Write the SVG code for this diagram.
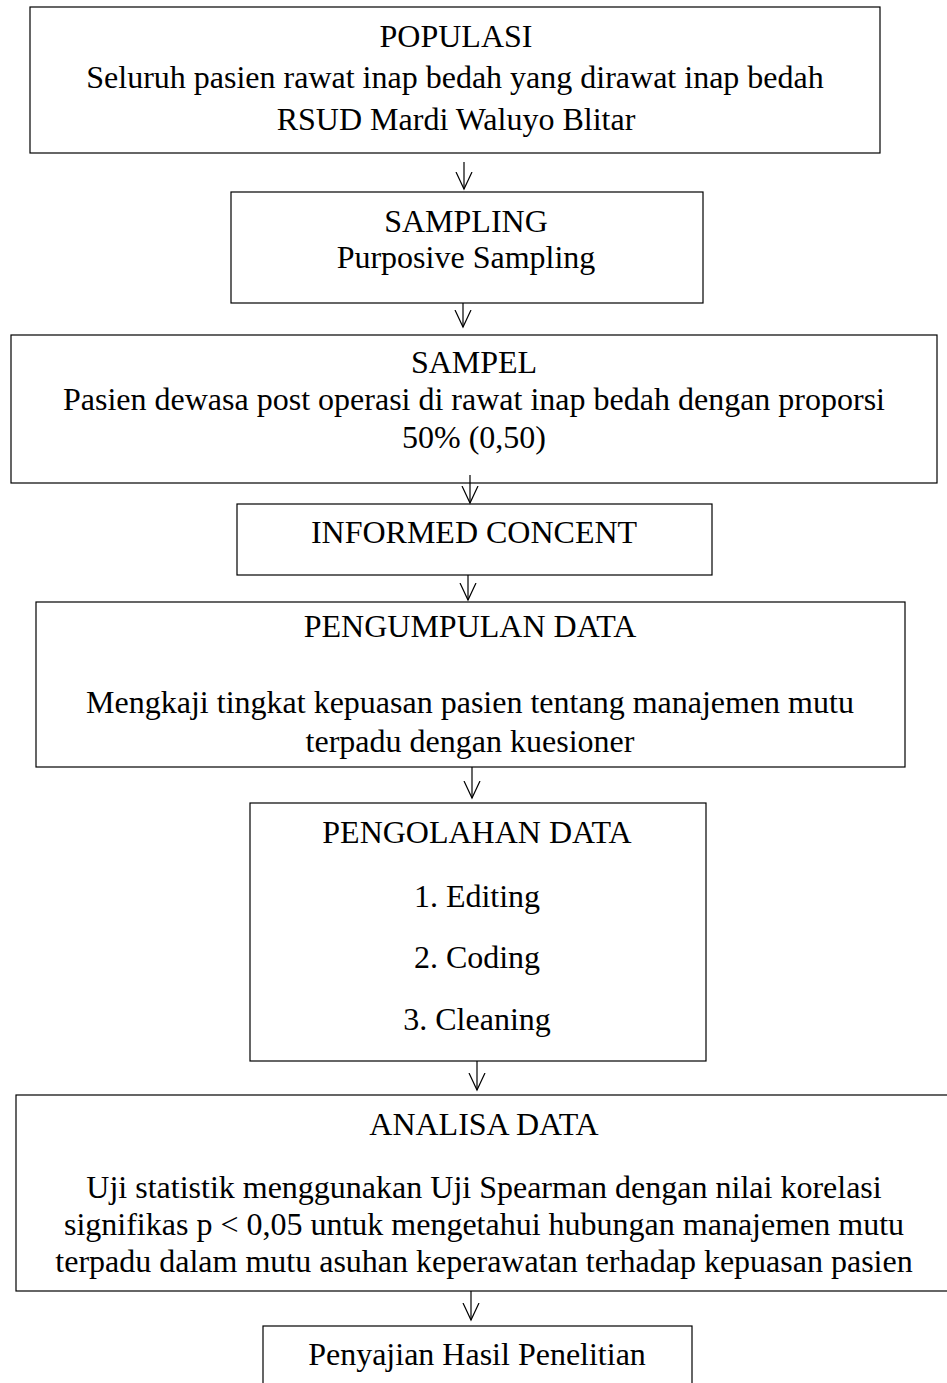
<svg xmlns="http://www.w3.org/2000/svg" width="947" height="1383" viewBox="0 0 947 1383">
<style>
.box{fill:#fff;stroke:#000;stroke-width:1.2}
.t{font-family:"Liberation Serif","Times New Roman",serif;font-size:32px;fill:#000;text-anchor:middle}
.c{stroke:#000;stroke-width:1.2;fill:none}
</style>
<defs>
<marker id="ah" markerWidth="20" markerHeight="20" refX="17" refY="9" orient="auto" markerUnits="userSpaceOnUse" viewBox="0 0 20 20">
<path d="M0,1 L17,9 L0,17" fill="none" stroke="#000" stroke-width="1.2"/>
</marker>
</defs>
<rect width="947" height="1383" fill="#fff"/>
<g id="populasi">
<rect class="box" x="30" y="7" width="850" height="146"/>
<text class="t" x="456" y="47">POPULASI</text>
<text class="t" x="455" y="88">Seluruh pasien rawat inap bedah yang dirawat inap bedah</text>
<text class="t" x="456" y="130">RSUD Mardi Waluyo Blitar</text>
</g>
<g id="sampling">
<rect class="box" x="231" y="192" width="472" height="111"/>
<text class="t" x="466" y="232">SAMPLING</text>
<text class="t" x="466" y="268">Purposive Sampling</text>
</g>
<g id="sampel">
<rect class="box" x="11" y="335" width="926" height="148"/>
<text class="t" x="474" y="373">SAMPEL</text>
<text class="t" x="474" y="410">Pasien dewasa post operasi di rawat inap bedah dengan proporsi</text>
<text class="t" x="474" y="448">50% (0,50)</text>
</g>
<g id="informed">
<rect class="box" x="237" y="504" width="475" height="71"/>
<text class="t" x="474" y="543">INFORMED CONCENT</text>
</g>
<g id="pengumpulan">
<rect class="box" x="36" y="602" width="869" height="165"/>
<text class="t" x="470" y="637">PENGUMPULAN DATA</text>
<text class="t" x="470" y="713">Mengkaji tingkat kepuasan pasien tentang manajemen mutu</text>
<text class="t" x="470" y="752">terpadu dengan kuesioner</text>
</g>
<g id="pengolahan">
<rect class="box" x="250" y="803" width="456" height="258"/>
<text class="t" x="477" y="843">PENGOLAHAN DATA</text>
<text class="t" x="477" y="907">1. Editing</text>
<text class="t" x="477" y="968">2. Coding</text>
<text class="t" x="477" y="1030">3. Cleaning</text>
</g>
<g id="analisa">
<rect class="box" x="16" y="1095" width="938" height="196"/>
<text class="t" x="484" y="1135">ANALISA DATA</text>
<text class="t" x="484" y="1198">Uji statistik menggunakan Uji Spearman dengan nilai korelasi</text>
<text class="t" x="484" y="1235">signifikas p &lt; 0,05 untuk mengetahui hubungan manajemen mutu</text>
<text class="t" x="484" y="1272">terpadu dalam mutu asuhan keperawatan terhadap kepuasan pasien</text>
</g>
<g id="penyajian">
<rect class="box" x="263" y="1326" width="429" height="80"/>
<text class="t" x="477" y="1365">Penyajian Hasil Penelitian</text>
</g>
<g id="connectors">
<line class="c" x1="464" y1="162" x2="464" y2="189" marker-end="url(#ah)"/>
<line class="c" x1="463" y1="303" x2="463" y2="327" marker-end="url(#ah)"/>
<line class="c" x1="470" y1="475" x2="470" y2="503" marker-end="url(#ah)"/>
<line class="c" x1="468" y1="575" x2="468" y2="600" marker-end="url(#ah)"/>
<line class="c" x1="472" y1="767" x2="472" y2="798" marker-end="url(#ah)"/>
<line class="c" x1="477" y1="1061" x2="477" y2="1090" marker-end="url(#ah)"/>
<line class="c" x1="471" y1="1291" x2="471" y2="1320" marker-end="url(#ah)"/>
</g>
</svg>
